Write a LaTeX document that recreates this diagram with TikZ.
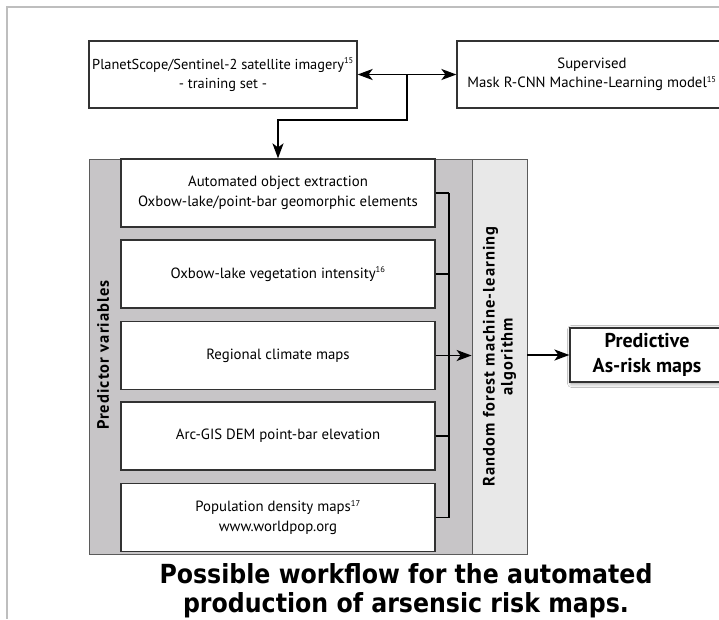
\documentclass[tikz,border=0pt]{standalone}
\usepackage{fontspec}
\usepackage{graphicx}
\setmainfont{PT Sans}
\newfontfamily\titlefont[FakeStretch=0.9]{DejaVu Sans}
\newcommand{\supnum}[1]{\textsuperscript{\fontsize{8.5}{8.5}\selectfont #1}}
\usetikzlibrary{arrows.meta,shadows.blur}
\definecolor{panelgray}{RGB}{199,197,199}
\definecolor{lightpanel}{RGB}{232,232,232}
\definecolor{framegray}{RGB}{190,190,190}
\definecolor{boxline}{RGB}{50,50,50}
\tikzset{
  wbox/.style={draw=boxline, line width=1.2pt, fill=white, inner sep=0pt,
    align=center, font=\fontsize{14.8}{20}\selectfont},
  panelbox/.style={draw=boxline!80, line width=0.8pt, inner sep=0pt},
  conn/.style={line width=1.9pt, black},
  arr/.style={conn, -{Stealth[length=15pt, width=11pt, inset=4pt]}},
  darr/.style={conn, {Stealth[length=15pt, width=11pt, inset=4pt]}-{Stealth[length=15pt, width=11pt, inset=4pt]}},
  sidelabel/.style={rotate=90, align=center,
    font=\fontsize{16.5}{18}\selectfont\bfseries\addfontfeature{LetterSpace=6.5}},
}
\begin{document}
\begin{tikzpicture}[x=1pt, y=-1pt]
\useasboundingbox (0,0) rectangle (719,619);
\fill[white] (0,0) rectangle (719,619);
% outer frame
\draw[framegray, line width=2pt] (719,7) -- (7,7) -- (7,619);

% top boxes
\node[wbox, minimum width=268pt, minimum height=67pt, font=\fontsize{14.4}{19}\selectfont] (sat) at (223,74.5)
  {PlanetScope/Sentinel-2 satellite imagery\supnum{15}\\- training set -};
\node[wbox, minimum width=270pt, minimum height=67pt, font=\fontsize{14.8}{19}\selectfont] (mask) at (592,74.5)
  {Supervised\\Mask R-CNN Machine-Learning model\supnum{15}};

% panels
\node[panelbox, fill=panelgray, minimum width=383pt, minimum height=395pt] (pv) at (280.5,356.5) {};
\node[panelbox, fill=lightpanel, minimum width=55pt, minimum height=395pt] (rf) at (499.5,356.5) {};
\node[sidelabel] (pvlabel) at (103,355) {Predictor variables};
\node[sidelabel] (rflabel) at (rf.center) {Random forest machine-learning\\algorithm};

% predictor boxes
\node[wbox, minimum width=314pt, minimum height=68pt] (b1) at (278,193)
  {Automated object extraction\\Oxbow-lake/point-bar geomorphic elements};
\node[wbox, minimum width=314pt, minimum height=68pt] (b2) at (278,274)
  {Oxbow-lake vegetation intensity\supnum{16}};
\node[wbox, minimum width=314pt, minimum height=68pt] (b3) at (278,355.5)
  {Regional climate maps};
\node[wbox, minimum width=314pt, minimum height=68pt] (b4) at (278,436)
  {Arc-GIS DEM point-bar elevation};
\node[wbox, minimum width=314pt, minimum height=68pt] (b5) at (278,517.5)
  {Population density maps\supnum{17}\\www.worldpop.org};

% output box
\node[wbox, blur shadow={shadow xshift=1.5pt, shadow yshift=-1.5pt, shadow blur steps=6, shadow blur radius=4pt, shadow opacity=45},
  minimum width=154pt, minimum height=54pt, font=\fontsize{20}{25}\selectfont\bfseries] (pred) at (647,355)
  {Predictive\\As-risk maps};

% connectors
\coordinate (j) at (407,74.5);
\coordinate (bus) at (449,0);
\draw[darr] (sat.east) -- (mask.west);
\draw[arr] (j) -- ++(0,45.5) -| (b1.north);
\foreach \b in {b1,b2,b3,b4,b5}{
  \draw[conn, line width=1.6pt] (\b.east) -- (\b.east -| bus);
}
\draw[conn, line width=1.6pt] (b1.east -| bus) -- (b5.east -| bus);
\draw[arr] (b3.east -| bus) -- (rf.west |- b3.east);
\draw[arr] (rf.east |- pred.west) -- (pred.west);

% title
\node[font=\titlefont\bfseries\fontsize{26.3}{29}\selectfont, align=center, inner sep=0pt] (title) at (406,591)
  {Possible workflow for the automated\\production of arsensic risk maps.};
\end{tikzpicture}
\end{document}
